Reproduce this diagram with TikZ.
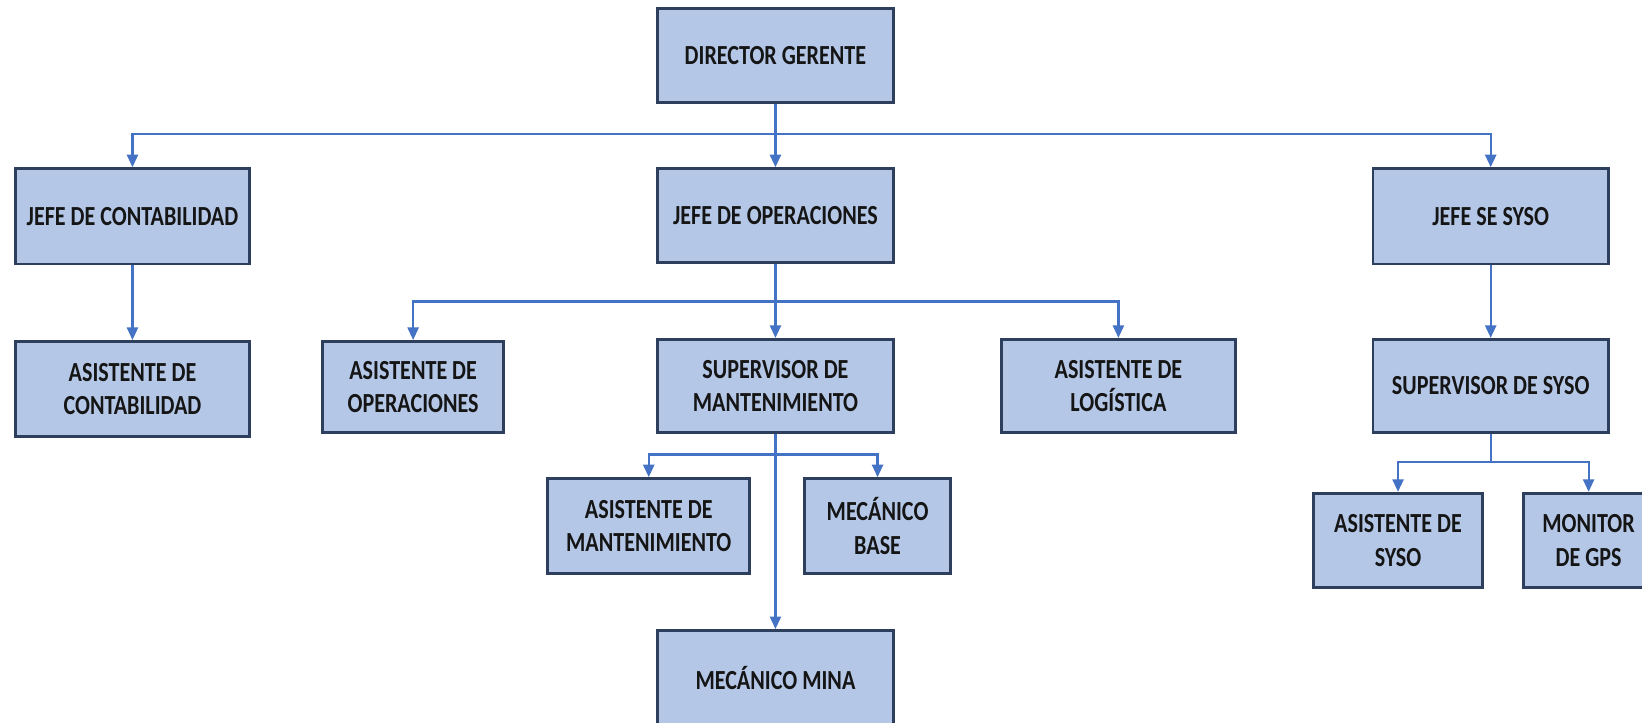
\documentclass[tikz,border=0pt]{standalone}
\usepackage{fontspec}
\setmainfont{Carlito}[FakeStretch=0.8]
\usetikzlibrary{arrows.meta}
\definecolor{boxfill}{HTML}{B4C7E7}
\definecolor{boxline}{HTML}{2E3F5E}
\definecolor{linkblue}{HTML}{4472C4}
\definecolor{ink}{HTML}{151515}
\tikzset{
  orgbox/.style={draw=boxline, line width=0.75pt, fill=boxfill, inner sep=1pt,
    align=center, text=ink, font=\bfseries\fontsize{7.5}{9.1}\selectfont},
  link/.style={draw=linkblue, line width=0.6pt,
    -{Triangle[length=3.4pt,width=3pt]}},
  plainlink/.style={draw=linkblue, line width=0.6pt}
}
\begin{document}
\begin{tikzpicture}
\useasboundingbox (0,0) rectangle (15.68,6.90);
\fill[white] (0,0) rectangle (15.68,6.90);

% level 0
\node[orgbox, minimum width=2.25cm, minimum height=0.90cm] (dg) at (7.405,6.37) {DIRECTOR GERENTE};

% level 1
\node[orgbox, minimum width=2.23cm, minimum height=0.91cm] (jc) at (1.265,4.835) {JEFE DE CONTABILIDAD};
\node[orgbox, minimum width=2.25cm, minimum height=0.90cm] (jo) at (7.405,4.84) {JEFE DE OPERACIONES};
\node[orgbox, minimum width=2.25cm, minimum height=0.91cm] (js) at (14.235,4.835) {JEFE SE SYSO};

% level 2
\node[orgbox, minimum width=2.23cm, minimum height=0.91cm] (ac) at (1.265,3.185) {ASISTENTE DE\\CONTABILIDAD};
\node[orgbox, minimum width=1.73cm, minimum height=0.87cm] (ao) at (3.945,3.205) {ASISTENTE DE\\OPERACIONES};
\node[orgbox, minimum width=2.25cm, minimum height=0.89cm] (sm) at (7.405,3.215) {SUPERVISOR DE\\MANTENIMIENTO};
\node[orgbox, minimum width=2.24cm, minimum height=0.89cm] (al) at (10.68,3.215) {ASISTENTE DE\\LOGÍSTICA};
\node[orgbox, minimum width=2.25cm, minimum height=0.89cm] (ss) at (14.235,3.215) {SUPERVISOR DE SYSO};

% level 3
\node[orgbox, minimum width=1.93cm, minimum height=0.91cm] (am) at (6.195,1.875) {ASISTENTE DE\\MANTENIMIENTO};
\node[orgbox, minimum width=1.40cm, minimum height=0.91cm] (mb) at (8.38,1.875) {MECÁNICO\\BASE};
\node[orgbox, minimum width=1.62cm, minimum height=0.90cm] (as) at (13.35,1.74) {ASISTENTE DE\\SYSO};
\node[orgbox, minimum width=1.24cm, minimum height=0.90cm] (mg) at (15.17,1.74) {MONITOR\\DE GPS};

% level 4
\node[orgbox, minimum width=2.25cm, minimum height=0.90cm] (mm) at (7.405,0.43) {MECÁNICO MINA};

% bus junctions
\coordinate (b0) at (7.405,5.62);
\coordinate (b1) at (7.405,4.02);
\coordinate (b2) at (7.405,2.56);
\coordinate (b3) at (14.235,2.49);

% director to heads
\draw[plainlink] (dg.south) -- (b0);
\draw[link] (b0) -| (jc.north);
\draw[link] (b0) -| (js.north);
\draw[link] (dg.south) -- (jo.north);

% accounting
\draw[link] (jc.south) -- (ac.north);

% operations
\draw[plainlink] (jo.south) -- (b1);
\draw[link] (b1) -| (ao.north);
\draw[link] (b1) -| (al.north);
\draw[link] (jo.south) -- (sm.north);

% maintenance
\draw[plainlink] (sm.south) -- (b2);
\draw[link] (b2) -| (am.north);
\draw[link] (b2) -| (mb.north);
\draw[link] (sm.south) -- (mm.north);

% safety
\draw[link] (js.south) -- (ss.north);
\draw[plainlink] (ss.south) -- (b3);
\draw[link] (b3) -| (as.north);
\draw[link] (b3) -| (mg.north);
\end{tikzpicture}
\end{document}
